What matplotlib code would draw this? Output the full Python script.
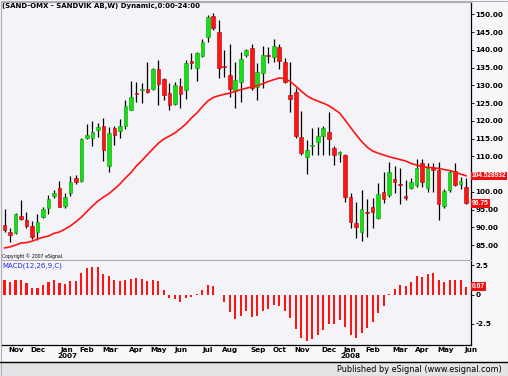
import matplotlib
matplotlib.use("Agg")
import matplotlib.pyplot as plt
from matplotlib.patches import Rectangle
from matplotlib.lines import Line2D
import numpy as np

# weekly candles, SAND-OMX, Oct 2006 - Jun 2008
opens = [90.6, 88.6, 88.3, 93.3, 92.1, 90.5, 88.6, 92.8, 95.4, 98.8,
         101.1, 96.0, 99.7, 103.8, 103.0, 115.1, 115.2, 117.4, 118.5, 107.4,
         117.9, 117.1, 118.5, 123.2, 127.8, 128.7, 129.0, 128.9, 134.5, 131.7,
         127.9, 124.7, 129.9, 128.7, 136.8, 134.8, 138.3, 143.5, 149.5, 145.1,
         135.5, 132.9, 128.5, 131.0, 138.5, 140.4, 129.6, 133.4, 138.6, 138.1,
         140.7, 136.6, 127.3, 128.2, 115.4, 109.9, 112.9, 114.1, 115.7, 116.9,
         112.5, 110.8, 110.4, 98.6, 91.3, 88.8, 94.1, 95.6, 92.5, 100.0,
         99.1, 103.6, 102.0, 98.8, 101.0, 101.9, 108.0, 101.0, 106.6, 106.3,
         96.0, 100.5, 105.9, 102.1, 101.4]
highs = [95.1, 89.9, 94.0, 97.7, 94.4, 91.8, 93.9, 95.8, 99.1, 100.5,
         103.0, 99.6, 104.5, 104.7, 115.1, 119.1, 120.0, 119.3, 120.7, 118.3,
         118.5, 120.4, 125.9, 131.2, 131.0, 130.6, 136.6, 134.9, 137.1, 132.0,
         130.6, 131.0, 132.0, 137.1, 139.2, 139.5, 143.2, 149.8, 150.5, 148.4,
         140.1, 141.8, 136.6, 139.5, 140.3, 141.8, 136.2, 141.1, 140.7, 143.0,
         141.8, 137.6, 136.6, 129.2, 122.8, 114.6, 117.9, 118.2, 118.5, 122.6,
         112.9, 111.6, 110.6, 99.6, 97.2, 100.5, 97.9, 98.2, 102.6, 105.7,
         108.5, 107.3, 106.7, 103.3, 103.8, 109.4, 109.4, 108.0, 108.0, 108.5,
         100.7, 106.3, 108.0, 104.3, 103.8]
lows = [88.6, 85.9, 88.0, 92.0, 89.7, 86.6, 86.4, 92.5, 93.9, 98.4,
        95.6, 95.4, 98.9, 102.1, 102.8, 115.0, 112.9, 115.4, 108.7, 105.7,
        113.2, 115.1, 117.6, 123.0, 125.4, 125.1, 127.9, 128.7, 124.5, 125.9,
        123.0, 124.5, 123.5, 126.1, 134.5, 131.3, 138.0, 142.3, 145.6, 132.0,
        132.4, 126.8, 123.5, 125.4, 138.0, 128.7, 125.9, 129.2, 136.4, 136.6,
        134.5, 130.6, 122.6, 115.1, 110.4, 105.0, 110.4, 110.4, 110.4, 110.4,
        107.5, 108.5, 97.2, 89.7, 86.9, 86.2, 87.4, 89.7, 92.3, 96.8,
        98.6, 99.7, 96.6, 97.7, 100.7, 101.4, 101.4, 100.0, 100.0, 92.1,
        95.4, 100.0, 101.6, 100.7, 96.6]
closes = [89.2, 87.9, 93.7, 92.3, 90.4, 87.4, 91.6, 95.1, 98.1, 99.7,
          95.8, 98.5, 102.8, 102.8, 114.8, 116.0, 116.9, 118.3, 111.8, 116.5,
          116.0, 118.5, 124.2, 126.6, 127.6, 129.0, 128.1, 134.5, 130.3, 127.3,
          124.5, 130.1, 127.7, 136.2, 136.4, 139.0, 142.3, 149.3, 146.1, 134.8,
          135.1, 128.9, 131.5, 137.5, 140.1, 129.2, 133.8, 138.7, 138.3, 141.1,
          136.9, 131.0, 126.1, 115.7, 111.0, 111.8, 113.0, 115.7, 117.9, 114.8,
          110.4, 111.0, 98.5, 91.6, 90.2, 95.1, 94.0, 94.4, 99.3, 97.9,
          105.7, 102.8, 101.8, 98.2, 102.8, 106.6, 102.8, 106.6, 106.1, 96.6,
          100.2, 105.7, 101.9, 103.0, 96.75]
ma_line = [84.2, 84.5, 85.0, 85.6, 85.7, 86.1, 86.7, 87.2, 87.55, 88.3,
           88.7, 89.5, 90.4, 91.6, 92.9, 94.45, 96.0, 97.4, 98.5, 99.5,
           100.8, 102.2, 103.9, 105.4, 107.3, 108.8, 110.5, 112.1, 113.7, 114.9,
           115.7, 116.6, 117.8, 119.1, 120.8, 122.2, 124.0, 125.6, 126.6, 127.1,
           127.5, 127.8, 128.3, 128.8, 129.2, 129.6, 129.9, 130.5, 131.1, 131.6,
           132.1, 131.9, 131.1, 129.8, 128.4, 127.1, 126.2, 125.6, 125.0, 124.3,
           123.3, 122.2, 120.2, 118.1, 116.1, 114.2, 112.6, 111.5, 110.9, 110.4,
           109.9, 109.5, 109.1, 108.7, 108.0, 107.55, 107.1, 106.9, 106.8, 106.6,
           106.3, 106.0, 105.6, 105.0, 104.528932]
macd_hist = [1.19, 1.05, 1.27, 1.19, 0.99, 0.59, 0.56, 0.82, 1.05, 1.19,
             0.99, 0.90, 1.13, 1.13, 1.84, 2.23, 2.37, 2.37, 1.75, 1.55,
             1.27, 1.13, 1.27, 1.33, 1.38, 1.33, 1.13, 1.27, 1.13, 0.34,
             -0.31, -0.37, -0.65, -0.31, -0.17, 0.05, 0.34, 0.82, 0.76, -0.08,
             -0.65, -1.50, -2.06, -1.84, -1.41, -1.92, -1.86, -1.44, -1.21, -0.88,
             -0.99, -1.44, -1.98, -2.91, -3.70, -3.95, -3.81, -3.47, -2.97, -2.54,
             -2.49, -2.20, -2.77, -3.47, -3.67, -3.25, -2.85, -2.34, -1.55, -0.99,
             0.05, 0.48, 0.82, 0.76, 1.10, 1.53, 1.47, 1.75, 1.84, 1.19,
             1.05, 1.27, 1.19, 1.19, 0.67]
month_pos = [2.1, 6.1, 11.4, 15.0, 19.2, 23.9, 28.1, 32.1, 36.9, 41.0,
             46.1, 50.0, 54.2, 59.1, 62.9, 67.1, 72.0, 76.0, 80.2, 84.85]
month_labels = ["Nov", "Dec", "Jan\n2007", "Feb", "Mar", "Apr", "May", "Jun", "Jul", "Aug",
                "Sep", "Oct", "Nov", "Dec", "Jan\n2008", "Feb", "Mar", "Apr", "May", "Jun"]
price_ticks = [85, 90, 95, 100, 105, 110, 115, 120, 125, 130, 135, 140, 145, 150]
macd_ticks = [-2.5, 0, 2.5]

W, H = 508.0, 376.0
BG = '#f4f3f8'
GREEN = '#14e014'
RED = '#ff1414'

fig = plt.figure(figsize=(W / 100, H / 100), dpi=100, facecolor='#f7f7f9')

ax = fig.add_axes([1 / W, 116 / H, 470 / W, 258 / H], facecolor=BG)
x = np.arange(len(closes))
o = np.array(opens)
c = np.array(closes)
up = c >= o
cols = np.where(up, GREEN, RED)
edges = np.where(up, '#0a9a0a', '#b00000')

ax.vlines(x, lows, highs, color='black', linewidth=0.9, zorder=2)
body_lo = np.minimum(o, c)
body_h = np.maximum(np.abs(c - o), 0.35)
ax.bar(x, body_h, 0.66, bottom=body_lo, color=cols, edgecolor=edges,
       linewidth=0.4, zorder=3)
ax.plot(x, ma_line, color=RED, linewidth=1.2, zorder=4)

ax.set_xlim(-0.64, 84.9)
ax.set_ylim(80.8, 153.5)
ax.set_xticks([])
ax.yaxis.tick_right()
ax.set_yticks(price_ticks)
# the 105 label sits under the moving-average value box
ax.set_yticklabels(['' if p == 105 else '%.2f' % p for p in price_ticks])
ax.tick_params(axis='y', length=2, width=0.6, pad=1, labelsize=5.2)
for lab in ax.get_yticklabels():
    lab.set_fontweight('bold')
for s in ['left', 'top', 'bottom']:
    ax.spines[s].set_color('#a8a8b0')
    ax.spines[s].set_linewidth(0.8)
ax.spines['right'].set_color('black')
ax.spines['right'].set_linewidth(0.9)

ax.text(0.003, 0.984, '(SAND-OMX - SANDVIK AB,W) Dynamic,0:00-24:00',
        transform=ax.transAxes, fontsize=5, fontweight='bold', va='center', ha='left')
ax.text(0.003, 0.016, 'Copyright \u00a9 2007 eSignal.', transform=ax.transAxes,
        fontsize=3.3, va='center', ha='left')

# last value boxes on the price scale
box = dict(boxstyle='square,pad=0.12', facecolor='#f01010', edgecolor='none')
ax.text(1.002, ma_line[-1], '%.6f' % ma_line[-1], transform=ax.get_yaxis_transform(),
        fontsize=4.7, fontweight='bold', family='Liberation Sans', color='white',
        va='center', ha='left', bbox=box, clip_on=False, zorder=10)
ax.text(1.002, closes[-1], '%.2f' % closes[-1], transform=ax.get_yaxis_transform(),
        fontsize=4.9, fontweight='bold', family='Liberation Sans', color='white',
        va='center', ha='left', bbox=box, clip_on=False, zorder=10)

# MACD panel
ax2 = fig.add_axes([1 / W, 31 / H, 470 / W, 84 / H], facecolor=BG)
ax2.bar(x, macd_hist, 0.38, color=RED, linewidth=0)
ax2.set_xlim(-0.64, 84.9)
ax2.set_ylim(-4.28, 2.84)
ax2.yaxis.tick_right()
ax2.set_yticks(macd_ticks)
ax2.set_yticklabels(['-2.5', '0', '2.5'])
ax2.tick_params(axis='y', length=2, width=0.6, pad=1, labelsize=5.2)
ax2.set_xticks(month_pos)
ax2.set_xticklabels(month_labels)
ax2.tick_params(axis='x', length=0, pad=1.5, labelsize=5.2)
for lab in ax2.get_xticklabels() + ax2.get_yticklabels():
    lab.set_fontweight('bold')
    lab.set_linespacing(0.95)
ax2.spines['top'].set_visible(False)
ax2.spines['left'].set_color('#a8a8b0')
ax2.spines['left'].set_linewidth(0.8)
ax2.spines['bottom'].set_color('black')
ax2.spines['bottom'].set_linewidth(0.9)
ax2.spines['right'].set_color('black')
ax2.spines['right'].set_linewidth(0.9)
ax2.text(0.003, 0.94, 'MACD(12,26,9,C)', transform=ax2.transAxes, fontsize=5,
         color='#2828e8', va='center', ha='left')
ax2.text(1.002, macd_hist[-1], '%.2f' % macd_hist[-1], transform=ax2.get_yaxis_transform(),
         fontsize=4.9, fontweight='bold', family='Liberation Sans', color='white',
         va='center', ha='left', bbox=box, clip_on=False, zorder=10)

# footer strip
fig.patches.append(Rectangle((0, 0), 1, 14 / H, transform=fig.transFigure,
                             facecolor='#e4e4e6', edgecolor='none', zorder=0))
fig.add_artist(Line2D([0, 1], [14 / H, 14 / H], color='black', linewidth=1.0))
fig.text(502 / W, 7 / H, 'Published by eSignal (www.esignal.com)', fontsize=5.9,
         ha='right', va='center')
fig.patches.append(Rectangle((0.5 / W, 0.5 / H), 1 - 1 / W, 1 - 1 / H, transform=fig.transFigure,
                             facecolor='none', edgecolor='#b0b0b8', linewidth=0.8))

fig.savefig('out.png', dpi=100, facecolor=fig.get_facecolor())
